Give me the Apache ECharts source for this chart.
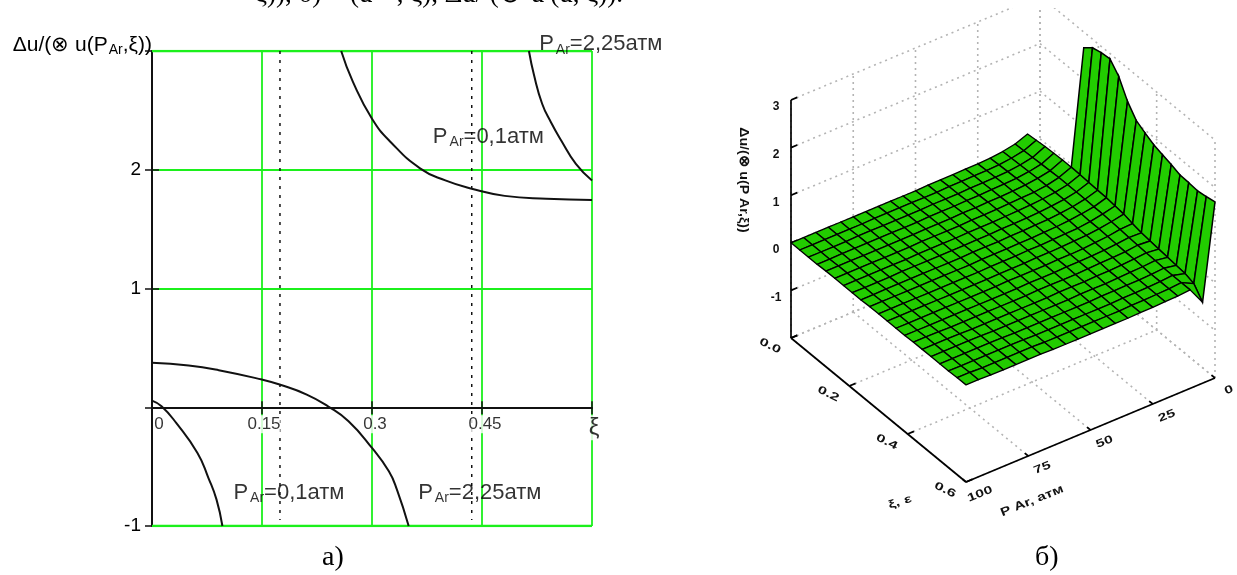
<!DOCTYPE html>
<html><head><meta charset="utf-8">
<style>html,body{margin:0;padding:0;background:#fff}#c{width:1237px;height:575px;filter:blur(0.4px)}</style>
<script src="https://cdn.jsdelivr.net/npm/echarts@6/dist/echarts.min.js"></script>
</head><body><div id="c"></div>
<script>
// ---------- panel a) data ----------
const xTicks = [0, 0.15, 0.3, 0.45, 0.6];
const xTickLabels = ['0', '0.15', '0.3', '0.45', 'ξ'];
const yTickLabels = { '-1': '-1', '1': '1', '2': '2' };
const curveA = [[0.258,3],[0.274,2.74],[0.3,2.43],[0.326,2.23],[0.366,2.01],[0.4,1.91],[0.436,1.84],[0.481,1.78],[0.538,1.755],[0.6,1.745]];
const curveB = [[0.514,3],[0.521,2.795],[0.532,2.556],[0.544,2.4],[0.558,2.247],[0.578,2.05],[0.6,1.91]];
const curveC = [[0,0.374],[0.05,0.351],[0.091,0.312],[0.15,0.233],[0.174,0.191],[0.211,0.107],[0.24,0.008],[0.268,-0.118],[0.3,-0.343],[0.323,-0.539],[0.334,-0.694],[0.35,-1]];
const curveD = [[0,0.056],[0.013,0.008],[0.033,-0.132],[0.062,-0.385],[0.077,-0.596],[0.088,-0.778],[0.096,-1]];
const dottedLeft = [[0.1745,3],[0.1745,-0.95]];
const dottedRight = [[0.436,3],[0.436,-0.95]];
const frameTop = [[0,3],[0.6,3]];
const frameBottom = [[0,-1],[0.6,-1]];
const annX = [0.528, 0.383, 0.111, 0.363];
const annY = [3.06, 2.28, -0.718, -0.718];
const annValue = ['2,25', '0,1', '0,1', '2,25'];

// ---------- panel б) data ----------
const surfaceZ = [ // rows P = 100 ... 5, columns ξ = 0 ... 0.6
[0.00,0.00,0.00,0.00,0.01,0.01,0.01,0.01,0.01,0.02,0.02,0.02,0.02,0.02,0.03,0.03,0.03,0.03,0.03,0.04,0.04],
[0.00,0.00,0.00,0.00,0.01,0.01,0.01,0.01,0.01,0.02,0.02,0.02,0.02,0.02,0.03,0.03,0.03,0.03,0.03,0.04,0.04],
[0.00,0.00,0.00,0.01,0.01,0.01,0.01,0.01,0.02,0.02,0.02,0.02,0.02,0.02,0.03,0.03,0.03,0.03,0.03,0.03,0.03],
[0.00,0.00,0.00,0.01,0.01,0.01,0.01,0.01,0.02,0.02,0.02,0.02,0.02,0.02,0.02,0.03,0.03,0.03,0.03,0.03,0.03],
[0.00,0.00,0.01,0.01,0.01,0.01,0.01,0.02,0.02,0.02,0.02,0.02,0.02,0.02,0.02,0.02,0.03,0.03,0.03,0.03,0.03],
[0.00,0.00,0.01,0.01,0.01,0.01,0.01,0.02,0.02,0.02,0.02,0.02,0.02,0.02,0.02,0.02,0.02,0.03,0.03,0.03,0.03],
[0.00,0.01,0.01,0.01,0.01,0.01,0.02,0.02,0.02,0.02,0.02,0.02,0.02,0.02,0.02,0.02,0.02,0.02,0.03,0.03,0.03],
[0.00,0.01,0.01,0.01,0.01,0.02,0.02,0.02,0.02,0.02,0.02,0.02,0.02,0.02,0.02,0.02,0.02,0.02,0.02,0.02,0.02],
[0.00,0.01,0.01,0.01,0.02,0.02,0.02,0.02,0.02,0.02,0.02,0.02,0.02,0.02,0.02,0.02,0.02,0.02,0.02,0.02,0.02],
[0.00,0.01,0.01,0.02,0.02,0.02,0.02,0.02,0.03,0.03,0.03,0.03,0.03,0.02,0.02,0.02,0.02,0.02,0.02,0.02,0.02],
[0.00,0.01,0.02,0.02,0.02,0.02,0.03,0.03,0.03,0.03,0.03,0.03,0.03,0.03,0.03,0.02,0.02,0.02,0.02,0.02,0.02],
[0.01,0.01,0.02,0.02,0.03,0.03,0.03,0.03,0.03,0.03,0.03,0.03,0.03,0.03,0.03,0.03,0.02,0.02,0.02,0.02,0.02],
[0.01,0.02,0.02,0.03,0.03,0.03,0.03,0.04,0.04,0.04,0.04,0.04,0.03,0.03,0.03,0.03,0.03,0.02,0.02,0.02,0.02],
[0.01,0.02,0.03,0.03,0.04,0.04,0.04,0.04,0.04,0.04,0.04,0.04,0.04,0.04,0.03,0.03,0.03,0.03,0.02,0.02,0.02],
[0.02,0.03,0.03,0.04,0.04,0.05,0.05,0.05,0.05,0.05,0.05,0.05,0.04,0.04,0.04,0.04,0.03,0.03,0.03,0.03,0.03],
[0.02,0.03,0.04,0.05,0.05,0.06,0.06,0.06,0.06,0.06,0.06,0.06,0.05,0.05,0.05,0.04,0.04,0.04,0.03,0.03,0.03],
[0.03,0.04,0.05,0.06,0.07,0.07,0.08,0.08,0.08,0.08,0.07,0.07,0.07,0.06,0.06,0.05,0.05,0.04,0.04,0.04,0.04],
[0.06,0.07,0.08,0.09,0.10,0.10,0.11,0.11,0.11,0.11,0.10,0.10,0.09,0.08,0.07,0.07,0.06,0.05,0.05,0.05,0.05],
[0.11,0.12,0.13,0.14,0.15,0.16,0.16,0.16,0.16,0.15,0.15,0.14,0.13,0.11,0.10,0.09,0.08,0.07,0.07,0.07,0.07],
[0.21,0.23,0.25,0.26,0.27,0.27,0.26,0.25,0.24,0.23,0.21,0.19,0.14,0.10,0.08,0.06,0.04,0.02,0.00,-0.06,-0.30]
];
const spikeZ = [null,null,null,null,null,2.67,2.82,2.87,2.89,2.67,2.30,2.05,1.94,1.84,1.785,1.73,1.66,1.65,1.63,1.66,1.70];
const pTicks = [100, 75, 50, 25, 0];
const xiTicks = [0, 0.2, 0.4, 0.6];
const zTicks = [-2, -1, 0, 1, 2, 3];
const zLabelTicks = [3, 2, 1, 0, -1];
const xiLabels = ['0.0', '0.2', '0.4', '0.6'];
const pLabels = ['100', '75', '50', '25', '0'];

// oblique projection of (ξ, P, z) into the hidden page-unit axes of the second grid
function project(xi, p, z) {
  const u = xi / 0.6, v = (100 - p) / 100;
  return [791 + 175 * u + 249 * v, 338 + 144 * u - 104 * v - 47.6 * (z + 2)];
}
const rowP = r => 100 - 5 * r;
const colXi = i => 0.03 * i;

const wallSegments = [];
zTicks.forEach(z => {
  wallSegments.push([0, 100, z, 0, 0, z]);
  wallSegments.push([0, 0, z, 0.6, 0, z]);
});
pTicks.forEach(p => {
  wallSegments.push([0, p, -2, 0, p, 3]);
  wallSegments.push([0, p, -2, 0.6, p, -2]);
});
xiTicks.forEach(x => {
  wallSegments.push([x, 0, -2, x, 0, 3]);
  wallSegments.push([x, 100, -2, x, 0, -2]);
});

const axisSegments = [[0,100,-2,0,100,3],[0,100,-2,0.6,100,-2],[0.6,100,-2,0.6,0,-2]];
zLabelTicks.concat([-2]).forEach(z => axisSegments.push([0,100,z,0,97.5,z]));
xiTicks.forEach(x => axisSegments.push([x,100,-2,x,97.5,-2]));
pTicks.forEach(p => axisSegments.push([0.6,p,-2,0.588,p,-2]));

const cells = [];
for (let r = surfaceZ.length - 2; r >= 0; r--) for (let i = 0; i < 20; i++) cells.push([r, i]);
const strips = [];
for (let i = 5; i < 20; i++) strips.push([i, 0]);

const textItems = [];
zLabelTicks.forEach(z => { const p = project(0,100,z); textItems.push({ t: String(z), x: p[0]-15, y: p[1]+7, rot: 0, sx: 1, sy: 1, f: 12 }); });
xiTicks.forEach((x,k) => { const p = project(x,100,-2); textItems.push({ t: xiLabels[k], x: p[0]-21, y: p[1]+8, rot: -0.45, sx: 1.25, sy: 0.85, f: 13 }); });
pTicks.forEach((v,k) => { const p = project(0.6,v,-2); textItems.push({ t: pLabels[k], x: p[0]+14, y: p[1]+12, rot: 0.38, sx: 1.2, sy: 0.85, f: 13 }); });
textItems.push({ t: 'ξ, ε', x: 900, y: 502, rot: 0.3, sx: 1.25, sy: 0.85, f: 13 });
textItems.push({ t: 'P Ar, атм', x: 1032, y: 501, rot: 0.38, sx: 1.1, sy: 0.85, f: 14 });
textItems.push({ t: 'Δu/(⊗ u(P Ar,ξ))', x: 744, y: 180, rot: -Math.PI/2, sx: 1.05, sy: 1, f: 13.5 });

const GREEN = '#1cf01c', INK = '#000';
const annRich = {
  a: { fontFamily: 'Liberation Sans', fontSize: 22, color: INK },
  s: { fontFamily: 'Liberation Sans', fontSize: 14, color: INK, padding: [12, 0, 0, 2] }
};
// horizontal nudges of the a) tick labels, as drawn in the source
const xTickNudge = [7, 2, 3, 3, 2];

const chart = echarts.init(document.getElementById('c'), null, { renderer: 'canvas' });
const blackLine = d => ({ type: 'line', data: d, showSymbol: false, smooth: 0.5, xAxisIndex: 0, yAxisIndex: 0, z: 4, silent: true,
  lineStyle: { color: '#111', width: 2 } });
const custom3d = (z, clip, data, renderItem) => ({ type: 'custom', coordinateSystem: 'cartesian2d', xAxisIndex: 2, yAxisIndex: 2, clip, silent: true, z, data, renderItem });

chart.setOption({
  animation: false,
  backgroundColor: '#fff',
  grid: [
    { left: 152, top: 51, width: 440, height: 475 },
    { left: 730, top: 8, width: 507, height: 567 }
  ],
  xAxis: [
    { gridIndex: 0, type: 'value', min: 0, max: 0.6, interval: 0.15, axisLine: { onZero: true, lineStyle: { color: '#111', width: 1.8 } },
      axisTick: { length: 7, lineStyle: { color: '#111', width: 1.5 } },
      splitLine: { show: true, lineStyle: { color: GREEN, width: 1.8 } },
      axisLabel: { show: false } },
    { gridIndex: 0, type: 'value', min: 0, max: 0.6, interval: 0.15, position: 'bottom', axisLine: { show: false, onZero: true },
      axisTick: { inside: true, length: 6, lineStyle: { color: '#111', width: 1.5 } }, axisLabel: { show: false }, splitLine: { show: false } },
    { gridIndex: 1, type: 'value', min: 730, max: 1237, show: false },
  ],
  yAxis: [
    { gridIndex: 0, type: 'value', min: -1, max: 3, interval: 1,
      name: '{a|Δu/(⊗ u(P}{s|Ar}{a|,ξ))}', nameLocation: 'end', nameGap: 6,
      nameTextStyle: { align: 'right', verticalAlign: 'middle', color: INK, rich: {
        a: { fontFamily: 'Liberation Sans', fontSize: 21, color: INK },
        s: { fontFamily: 'Liberation Sans', fontSize: 14, color: INK, padding: [11, 0, 0, 1] } } },
      axisLine: { show: true, onZero: false, lineStyle: { color: '#111', width: 2 } },
      axisTick: { show: true, length: 7, lineStyle: { color: '#111', width: 1.5 } },
      splitLine: { show: true, lineStyle: { color: GREEN, width: 1.8 } },
      axisLabel: { margin: 11, color: INK, fontFamily: 'Liberation Sans', fontSize: 19, formatter: v => yTickLabels[String(v)] || '' } },
    { gridIndex: 0, type: 'value', min: -1, max: 3, interval: 1, position: 'left', axisLine: { show: false, onZero: false },
      axisTick: { show: true, inside: true, length: 7, lineStyle: { color: '#111', width: 1.5 } }, axisLabel: { show: false }, splitLine: { show: false } },
    { gridIndex: 1, type: 'value', min: 8, max: 575, inverse: true, show: false }
  ],
  graphic: [
    { type: 'text', left: 255, top: -19, z: 20, style: { text: 'ξ)), б) − (u·+, ξ), Δu/ (⊗·u′(u, ξ)).', fontFamily: 'Liberation Serif', fontSize: 27, fill: '#000' } },
    { type: 'text', left: 322, top: 544, z: 20, style: { text: 'а)', fontFamily: 'Liberation Serif', fontSize: 28, fill: '#000' } },
    { type: 'text', left: 1035, top: 544, z: 20, style: { text: 'б)', fontFamily: 'Liberation Serif', fontSize: 28, fill: '#000' } }
  ],
  series: [
    { type: 'line', data: frameTop, showSymbol: false, silent: true, xAxisIndex: 0, yAxisIndex: 0, z: 1, lineStyle: { color: GREEN, width: 2.5 } },
    { type: 'line', data: frameBottom, showSymbol: false, silent: true, xAxisIndex: 0, yAxisIndex: 0, z: 1, lineStyle: { color: GREEN, width: 2.5 } },
    { type: 'line', data: dottedLeft, showSymbol: false, silent: true, xAxisIndex: 0, yAxisIndex: 0, z: 3, lineStyle: { color: '#111', width: 1.5, type: [3, 6] } },
    { type: 'line', data: dottedRight, showSymbol: false, silent: true, xAxisIndex: 0, yAxisIndex: 0, z: 3, lineStyle: { color: '#111', width: 1.5, type: [3, 6] } },
    blackLine(curveA), blackLine(curveB), blackLine(curveC), blackLine(curveD),
    { type: 'scatter', xAxisIndex: 0, yAxisIndex: 0, clip: false, symbolSize: 0, silent: true, z: 6,
      data: annX.map((x, k) => [x, annY[k]]),
      label: { show: true, position: 'right', distance: 0, rich: annRich,
        formatter: p => `{a|P}{s|Ar}{a|=${annValue[p.dataIndex]}атм}` } },
    { type: 'scatter', xAxisIndex: 0, yAxisIndex: 0, clip: false, symbolSize: 0, silent: true, z: 3,
      data: xTicks.map((x, k) => ({ value: [x, 0], label: k === xTicks.length - 1 ? { fontSize: 24 } : undefined })),
      labelLayout: p => ({ dx: xTickNudge[p.dataIndex] }),
      label: { show: true, position: 'bottom', distance: 8, color: INK, fontFamily: 'Liberation Sans', fontSize: 17, backgroundColor: '#fff', padding: [1, 0, 0, 0],
        formatter: p => xTickLabels[p.dataIndex] } },
    // ---- panel б) ----
    custom3d(1, true, wallSegments, (params, api) => {
        const pa = api.coord(project(api.value(0), api.value(1), api.value(2))), pb = api.coord(project(api.value(3), api.value(4), api.value(5)));
        return { type: 'line', shape: { x1: pa[0], y1: pa[1], x2: pb[0], y2: pb[1] },
          style: { stroke: '#b4b4b4', lineWidth: 1.6, lineDash: [2, 4], fill: null } };
      }),
    custom3d(2, true, axisSegments, (params, api) => {
        const pa = api.coord(project(api.value(0), api.value(1), api.value(2))), pb = api.coord(project(api.value(3), api.value(4), api.value(5)));
        return { type: 'line', shape: { x1: pa[0], y1: pa[1], x2: pb[0], y2: pb[1] }, style: { stroke: '#000', lineWidth: 1.7, fill: null } };
      }),
    custom3d(3, true, strips, (params, api) => {
        const i = api.value(0), r = surfaceZ.length - 1, pTop = rowP(surfaceZ.length);
        const pts = [
          project(colXi(i), rowP(r), surfaceZ[r][i]),
          project(colXi(i + 1), rowP(r), surfaceZ[r][i + 1]),
          project(colXi(i + 1), pTop, spikeZ[i + 1]),
          project(colXi(i), pTop, spikeZ[i])
        ].map(p => api.coord(p));
        return { type: 'polygon', shape: { points: pts }, style: { fill: '#22cc00', stroke: '#000', lineWidth: 1.5 } };
      }),
    custom3d(4, true, cells, (params, api) => {
        const r = api.value(0), i = api.value(1);
        const pts = [
          project(colXi(i), rowP(r), surfaceZ[r][i]),
          project(colXi(i + 1), rowP(r), surfaceZ[r][i + 1]),
          project(colXi(i + 1), rowP(r + 1), surfaceZ[r + 1][i + 1]),
          project(colXi(i), rowP(r + 1), surfaceZ[r + 1][i])
        ].map(p => api.coord(p));
        return { type: 'polygon', shape: { points: pts }, style: { fill: '#22cc00', stroke: '#000', lineWidth: 1.35, lineJoin: 'round' } };
      }),
    custom3d(5, false, textItems.map((_, k) => [k, 0]), (params, api) => {
        const t = textItems[api.value(0)];
        return { type: 'text', x: t.x, y: t.y, rotation: t.rot, scaleX: t.sx, scaleY: t.sy,
          style: { text: t.t, align: 'center', verticalAlign: 'middle', fontFamily: 'Liberation Sans', fontSize: t.f, fontWeight: 'bold', fill: '#111' } };
      })
  ]
});
</script></body></html>
